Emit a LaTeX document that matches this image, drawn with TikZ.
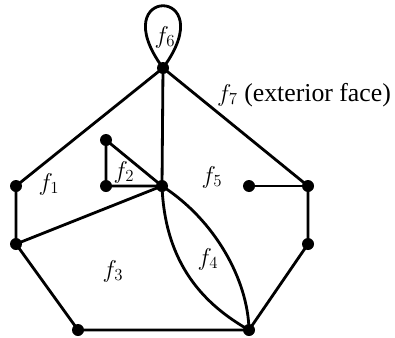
\documentclass[tikz,border=0pt]{standalone}
\usepackage{fontspec}
\setmainfont{Liberation Serif}
\tikzset{
  edge/.style={line width=2.4pt},
  dot/.style={fill=black},
  face/.style={inner sep=0pt,font=\fontsize{22}{26}\selectfont}
}
\begin{document}
\begin{tikzpicture}[x=0.03cm,y=-0.03cm]
\path[use as bounding box] (0,0) rectangle (395,337);
% vertices
\coordinate (top) at (163,68);
\coordinate (lu) at (16,186);
\coordinate (ll) at (16,244);
\coordinate (bl) at (78,330);
\coordinate (br) at (249,330);
\coordinate (rl) at (308,244);
\coordinate (ru) at (308,186);
\coordinate (mid) at (162,186);
\coordinate (tt) at (106,140);
\coordinate (tb) at (106,186);
\coordinate (dg) at (249,186);
% edges
\draw[edge] (top) .. controls (102,-15) and (224,-15) .. (top);
\draw[edge] (top) -- (lu) -- (ll) -- (bl) -- (br) -- (rl) -- (ru) -- (top);
\draw[edge] (top) -- (mid);
\draw[edge] (ru) -- (dg);
\draw[edge] (ll) -- (mid);
\draw[edge] (mid) -- (tt) -- (tb) -- (mid);
\draw[edge] (mid) .. controls +(3,79) and +(-44,-25) .. (br);
\draw[edge] (mid) .. controls +(53,34) and +(-1,-50) .. (br);
% dots
\foreach \v in {top,lu,ll,bl,br,rl,ru,mid,tt,tb,dg}
  \fill[dot] (\v) circle (0.18cm);
% faces
\node[face] (f1) at (49,184) {$f_1$};
\node[face] (f2) at (124,172) {$f_2$};
\node[face] (f3) at (113,271) {$f_3$};
\node[face] (f4) at (208,259) {$f_4$};
\node[face] (f5) at (212,177) {$f_5$};
\node[face] (f6) at (165,37) {$f_6$};
\node[face,anchor=west] (f7) at (217,95) {$f_7$ (exterior face)};
\end{tikzpicture}
\end{document}
